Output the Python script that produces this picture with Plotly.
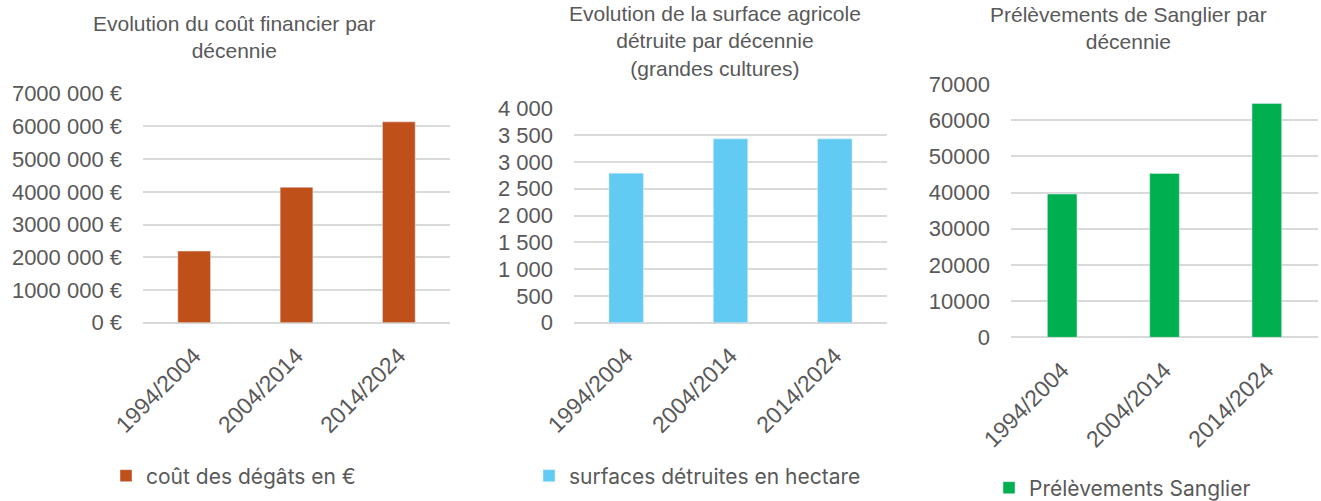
import plotly.graph_objects as go

periods = ["1994/2004", "2004/2014", "2014/2024"]

cout_degats = [2190000, 4140000, 6140000]
surfaces_detruites = [2790, 3430, 3430]
prelevements_sanglier = [39600, 45300, 64600]

cout_ticks = [0, 1000000, 2000000, 3000000, 4000000, 5000000, 6000000, 7000000]
cout_ticktext = ["0 €", "1000 000 €", "2000 000 €", "3000 000 €", "4000 000 €",
                 "5000 000 €", "6000 000 €", "7000 000 €"]
surface_ticks = [0, 500, 1000, 1500, 2000, 2500, 3000, 3500, 4000]
surface_ticktext = ["0", "500", "1 000", "1 500", "2 000", "2 500", "3 000", "3 500", "4 000"]
sanglier_ticks = [0, 10000, 20000, 30000, 40000, 50000, 60000, 70000]

TEXT = "#595959"
GRID = "#D9D9D9"
FONT = "Liberation Sans"
LEGEND_FONT = "Inter"
W, H = 1321, 501


def px_x(p):
    return p / W


def px_y(p):
    return 1 - p / H


fig = go.Figure()

panels = [
    dict(values=cout_degats, name="coût des dégâts en €", color="#C0501A", width=0.32,
         xdom=(143, 450), ydom=(322.7, 93.7), yrange=[0, 7000000],
         tickvals=cout_ticks, ticktext=cout_ticktext,
         title="Evolution du coût financier par<br>décennie", tx=235, ty=37,
         legend_x=106, legend_y=476),
    dict(values=surfaces_detruites, name="surfaces détruites en hectare", color="#61CBF3", width=0.33,
         xdom=(574, 887), ydom=(322.7, 108.3), yrange=[0, 4000],
         tickvals=surface_ticks, ticktext=surface_ticktext,
         title="Evolution de la surface agricole<br>détruite par décennie<br>(grandes cultures)",
         tx=715, ty=41, legend_x=529, legend_y=476),
    dict(values=prelevements_sanglier, name="Prélèvements Sanglier", color="#00B050", width=0.29,
         xdom=(1011, 1318), ydom=(337.3, 84), yrange=[0, 70000],
         tickvals=sanglier_ticks, ticktext=[str(v) for v in sanglier_ticks],
         title="Prélèvements de Sanglier par<br>décennie", tx=1128, ty=28,
         legend_x=989, legend_y=488),
]

layout = {}
for i, p in enumerate(panels, start=1):
    suffix = "" if i == 1 else str(i)
    legend_name = "legend" if i == 1 else f"legend{i}"
    fig.add_bar(
        x=periods,
        y=p["values"],
        name=p["name"],
        marker_color=p["color"],
        width=p["width"],
        xaxis=f"x{suffix}",
        yaxis=f"y{suffix}",
        legend=legend_name,
        showlegend=True,
    )
    layout[f"xaxis{suffix}"] = dict(
        domain=[px_x(p["xdom"][0]), px_x(p["xdom"][1])],
        anchor=f"y{suffix}",
        tickangle=-45,
        showgrid=False,
        showline=False,
        zeroline=False,
        ticks="",
        ticklabelstandoff=14,
        tickfont=dict(size=23, color=TEXT, family=FONT),
        automargin=False,
        fixedrange=True,
    )
    layout[f"yaxis{suffix}"] = dict(
        domain=[px_y(p["ydom"][0]), px_y(p["ydom"][1])],
        anchor=f"x{suffix}",
        range=p["yrange"],
        tickmode="array",
        tickvals=p["tickvals"],
        ticktext=p["ticktext"],
        showgrid=True,
        gridcolor=GRID,
        gridwidth=2,
        zeroline=True,
        zerolinecolor=GRID,
        zerolinewidth=2,
        showline=False,
        ticks="",
        ticklabelstandoff=20,
        tickfont=dict(size=22, color=TEXT, family=FONT),
        automargin=False,
        fixedrange=True,
    )
    layout[legend_name] = dict(
        x=px_x(p["legend_x"]),
        y=px_y(p["legend_y"]),
        xanchor="left",
        yanchor="middle",
        bgcolor="rgba(0,0,0,0)",
        itemwidth=30,
        font=dict(size=21, color=TEXT, family=LEGEND_FONT),
    )
    fig.add_annotation(
        text=p["title"],
        x=px_x(p["tx"]),
        y=px_y(p["ty"]),
        xref="paper",
        yref="paper",
        xanchor="center",
        yanchor="middle",
        showarrow=False,
        font=dict(size=21, color=TEXT, family=FONT),
    )

fig.update_layout(
    **layout,
    width=W,
    height=H,
    margin=dict(l=0, r=0, t=0, b=0, autoexpand=False),
    paper_bgcolor="white",
    plot_bgcolor="white",
    font=dict(family=FONT, color=TEXT),
    bargap=0.68,
)

# the page body has a default 8px margin; drop it so the figure fills the window
fig.write_html(
    "out.html",
    config={"displayModeBar": False},
    post_script="document.body.style.margin = '0';",
)
